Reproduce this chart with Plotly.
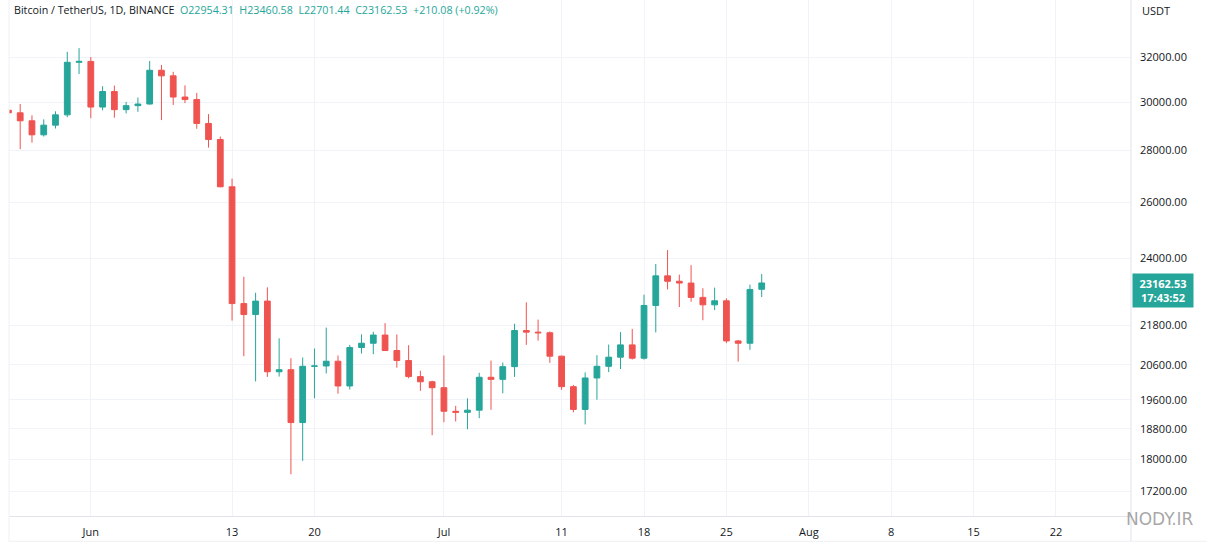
import math
import plotly.graph_objects as go

# --- data (BTC/USDT, 1D, Binance) ---
DATES = [
    "2022-05-25", "2022-05-26", "2022-05-27", "2022-05-28", "2022-05-29", "2022-05-30", "2022-05-31",
    "2022-06-01", "2022-06-02", "2022-06-03", "2022-06-04", "2022-06-05", "2022-06-06", "2022-06-07",
    "2022-06-08", "2022-06-09", "2022-06-10", "2022-06-11", "2022-06-12", "2022-06-13", "2022-06-14",
    "2022-06-15", "2022-06-16", "2022-06-17", "2022-06-18", "2022-06-19", "2022-06-20", "2022-06-21",
    "2022-06-22", "2022-06-23", "2022-06-24", "2022-06-25", "2022-06-26", "2022-06-27", "2022-06-28",
    "2022-06-29", "2022-06-30", "2022-07-01", "2022-07-02", "2022-07-03", "2022-07-04", "2022-07-05",
    "2022-07-06", "2022-07-07", "2022-07-08", "2022-07-09", "2022-07-10", "2022-07-11", "2022-07-12",
    "2022-07-13", "2022-07-14", "2022-07-15", "2022-07-16", "2022-07-17", "2022-07-18", "2022-07-19",
    "2022-07-20", "2022-07-21", "2022-07-22", "2022-07-23", "2022-07-24", "2022-07-25", "2022-07-26",
    "2022-07-27", "2022-07-28",
]
OPEN = [
    29655, 29545, 29210, 28630, 29030, 29460, 31760,
    31800, 29790, 30460, 29680, 29850, 29920, 31400,
    31150, 30220, 30110, 29100, 28440, 26580, 22490,
    22140, 22570, 20400, 20460, 18970, 20560, 20570,
    20710, 19990, 21120, 21250, 21500, 21030, 20730,
    20260, 20110, 19940, 19280, 19250, 19310, 20240,
    20180, 20550, 21640, 21590, 21570, 20860, 19970,
    19330, 20220, 20560, 20830, 21200, 20800, 22430,
    23400, 23220, 23160, 22690, 22450, 22580, 21320,
    21250, 22954.31,
]
HIGH = [
    30220, 29920, 29440, 29270, 29610, 32240, 32410,
    32000, 30690, 30720, 30010, 30200, 31820, 31640,
    31330, 30730, 30400, 29490, 28560, 26890, 23370,
    22840, 23020, 21400, 20800, 20820, 21090, 21730,
    20880, 21200, 21520, 21600, 21870, 21520, 21190,
    20430, 20140, 20880, 19430, 19640, 20370, 20730,
    20670, 21850, 22530, 21980, 21610, 20880, 20020,
    20380, 20890, 21210, 21590, 21690, 22780, 23800,
    24280, 23440, 23760, 22990, 23010, 22660, 21350,
    23110, 23460.58,
]
LOW = [
    29310, 28050, 28310, 28560, 28890, 29360, 31230,
    29320, 29650, 29340, 29520, 29590, 29900, 29240,
    29880, 29960, 28880, 28110, 26560, 21950, 20860,
    20120, 20250, 20260, 17620, 17960, 19640, 20350,
    19770, 19890, 20940, 20920, 21020, 20520, 20210,
    19850, 18630, 18980, 19000, 18790, 19090, 19320,
    19780, 20250, 21200, 21330, 20660, 19880, 19250,
    18920, 19600, 20390, 20480, 20760, 20760, 21580,
    22950, 22380, 22550, 21960, 22280, 21250, 20700,
    21050, 22701.44,
]
CLOSE = [
    29545, 29210, 28630, 29030, 29460, 31760, 31800,
    29790, 30460, 29680, 29850, 29920, 31400, 31150,
    30220, 30110, 29100, 28440, 26580, 22490, 22140,
    22570, 20400, 20460, 18970, 20560, 20570, 20710,
    19990, 21120, 21250, 21500, 21030, 20730, 20260,
    20110, 19940, 19280, 19250, 19310, 20240, 20180,
    20550, 21640, 21590, 21570, 20860, 19970, 19330,
    20220, 20560, 20830, 21200, 20800, 22430, 23400,
    23220, 23160, 22690, 22450, 22580, 21320, 21250,
    22950, 23162.53,
]

Y_TICKS = [17200, 18000, 18800, 19600, 20600, 21800, 24000, 26000, 28000, 30000, 32000]
X_TICK_DATES = ["2022-06-01", "2022-06-13", "2022-06-20", "2022-07-01", "2022-07-11", "2022-07-18",
                "2022-07-25", "2022-08-01", "2022-08-08", "2022-08-15", "2022-08-22"]
X_TICK_LABELS = ["Jun", "13", "20", "Jul", "11", "18", "25", "Aug", "8", "15", "22"]

SYMBOL = "Bitcoin / TetherUS, 1D, BINANCE"
LEGEND_VALUES = ["O22954.31", "H23460.58", "L22701.44", "C23162.53", "+210.08 (+0.92%)"]
LAST_PRICE = 23162.53
COUNTDOWN = "17:43:52"

UP = "#26a69a"
DOWN = "#ef5350"
TXT = "#131722"
GRID = "#f0f3fa"
FONT = "Open Sans"

fig = go.Figure()
fig.add_trace(go.Candlestick(
    x=DATES, open=OPEN, high=HIGH, low=LOW, close=CLOSE,
    increasing=dict(line=dict(color=UP, width=1), fillcolor=UP),
    decreasing=dict(line=dict(color=DOWN, width=1), fillcolor=DOWN),
    whiskerwidth=0, hoverinfo="skip", showlegend=False,
))

# last price dotted line + label
fig.add_shape(type="line", xref="paper", x0=0, x1=1, yref="y",
              y0=math.log10(LAST_PRICE), y1=math.log10(LAST_PRICE),
              line=dict(color=UP, width=1, dash="dot"))
fig.add_annotation(xref="paper", x=1.0005, xanchor="left", yref="y", y=math.log10(LAST_PRICE),
                   yanchor="top", yshift=10, showarrow=False, align="center",
                   text=f"<b>{LAST_PRICE:.2f}</b><br><b>{COUNTDOWN}</b>",
                   font=dict(family=FONT, size=11, color="white"),
                   bgcolor=UP, borderpad=2, width=56)

# header line
header = (f'<span style="color:{TXT}">{SYMBOL}</span>&nbsp;&nbsp;'
          + "&nbsp;&nbsp;".join(f'<span style="color:{UP}">{v}</span>' for v in LEGEND_VALUES))
fig.add_annotation(xref="paper", yref="paper", x=0.003, y=0.999, xanchor="left", yanchor="top",
                   text=header, showarrow=False, font=dict(family=FONT, size=10.7, color=TXT))
fig.add_annotation(xref="paper", yref="paper", x=1.008, y=0.999, xanchor="left", yanchor="top",
                   text="USDT", showarrow=False, font=dict(family=FONT, size=11, color=TXT))

# watermark
fig.add_annotation(xref="paper", yref="paper", x=1.058, y=-0.005, xanchor="right", yanchor="middle",
                   text="NODY.IR", showarrow=False,
                   font=dict(family="DejaVu Sans", size=17, color="rgba(90,90,90,0.55)"))

# frame lines outside the plot
fig.add_shape(type="line", xref="paper", yref="paper", x0=1, x1=1, y0=-0.05, y1=1,
              line=dict(color="#e0e3eb", width=1))
fig.add_shape(type="line", xref="paper", yref="paper", x0=0, x1=1.07, y0=-0.049, y1=-0.049,
              line=dict(color="#eef0f3", width=1))
fig.add_shape(type="line", xref="paper", yref="paper", x0=0, x1=0, y0=-0.05, y1=1,
              line=dict(color="#eef0f3", width=1))

fig.update_layout(
    width=1207, height=546,
    margin=dict(l=9, r=76, t=0, b=30),
    paper_bgcolor="white", plot_bgcolor="white",
    font=dict(family=FONT, size=11, color=TXT),
    showlegend=False,
    xaxis=dict(
        type="date", range=["2022-05-25 01:10", "2022-08-28 09:00"],
        tickvals=X_TICK_DATES, ticktext=X_TICK_LABELS,
        showgrid=True, gridcolor=GRID, gridwidth=1,
        showline=True, linecolor="#e0e3eb", ticks="", ticklabelstandoff=6,
        rangeslider=dict(visible=False), zeroline=False,
    ),
    yaxis=dict(
        type="log", side="right",
        range=[math.log10(16597), math.log10(34720)],
        tickvals=Y_TICKS, ticktext=[f"{v:.2f}" for v in Y_TICKS],
        showgrid=True, gridcolor=GRID, gridwidth=1,
        showline=False, ticks="", ticklabelstandoff=8, zeroline=False,
    ),
)

# page has a default 8px body margin; drop it so the chart fills the window
fig.write_html("out.html", config={"displayModeBar": False},
               post_script="document.body.style.margin='0';")
